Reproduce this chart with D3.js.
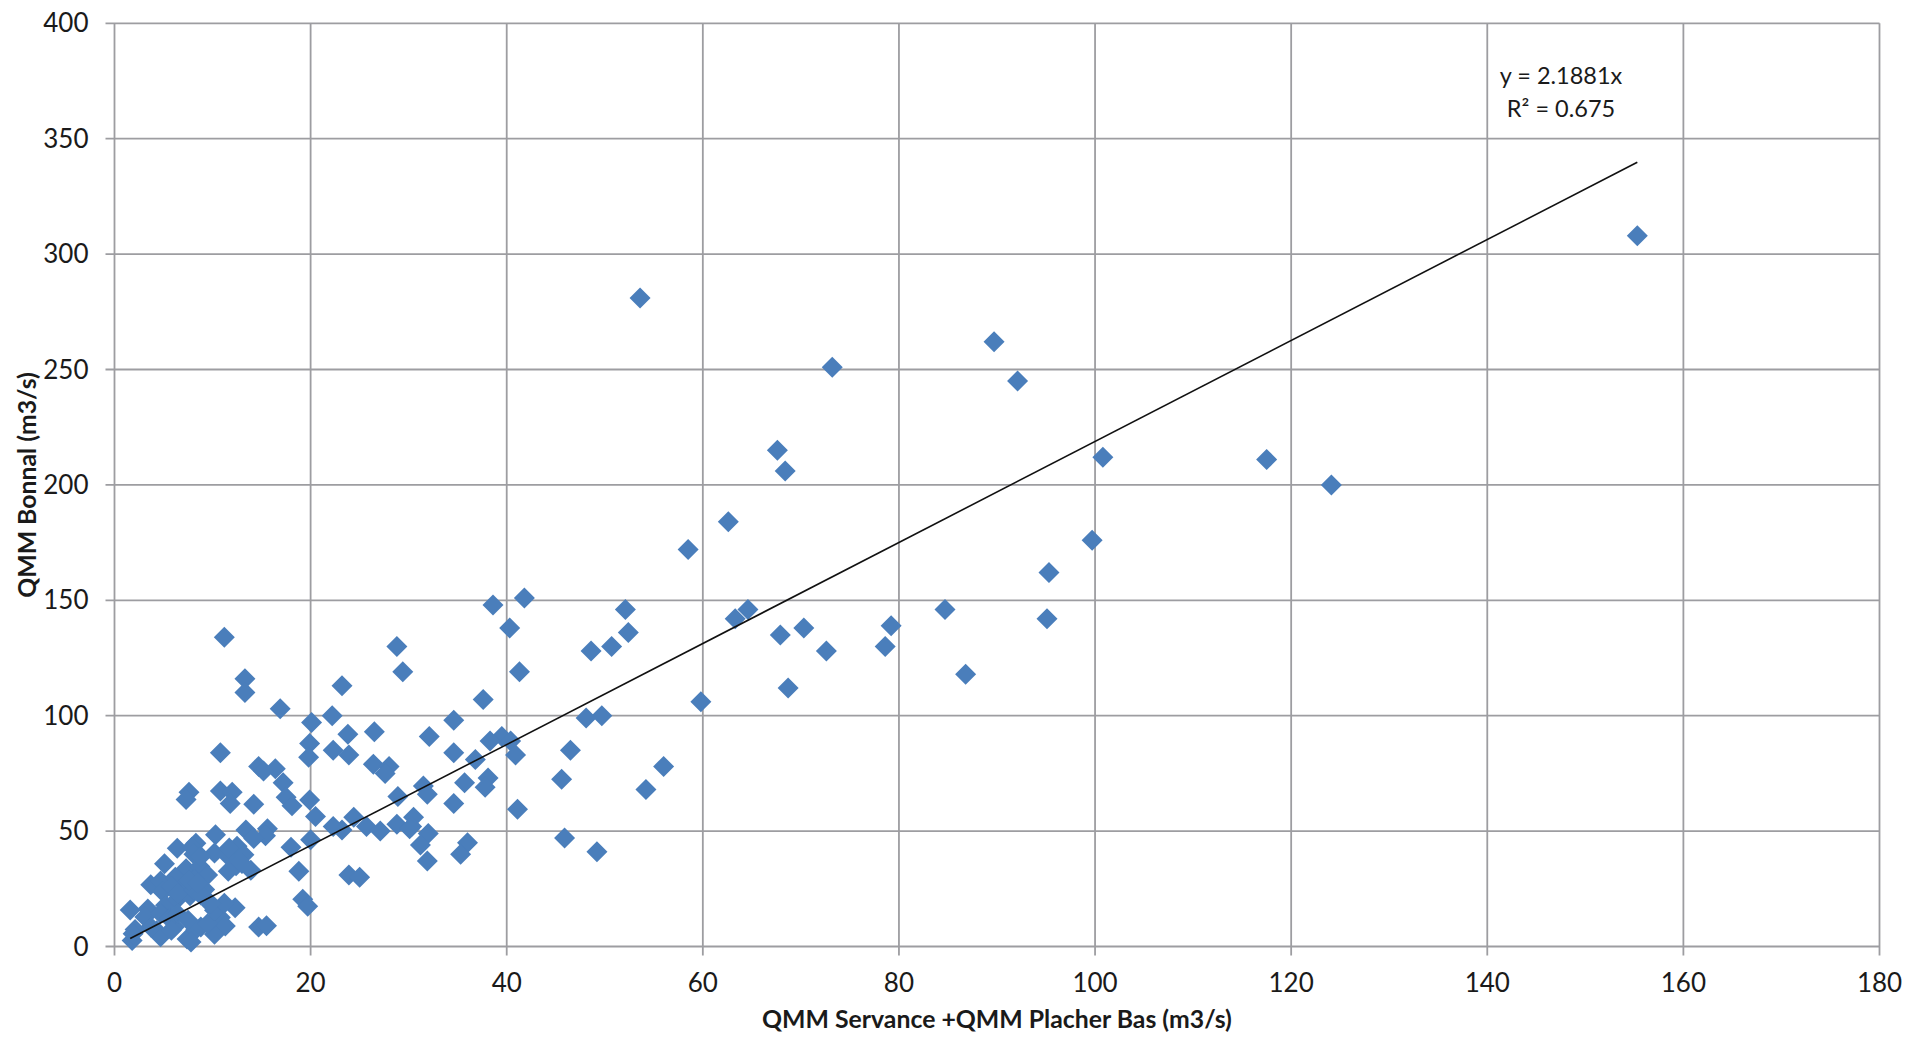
<!DOCTYPE html>
<html>
<head>
<meta charset="utf-8">
<script src="https://cdn.jsdelivr.net/npm/d3@7"></script>
<style>
  html, body { margin: 0; padding: 0; background: #ffffff; }
  svg { display: block; }
</style>
</head>
<body>
<svg id="chart" width="1907" height="1039"></svg>
<script>
// ---- Data ----
const xValues = [
  155.3, 53.6, 89.7, 73.2, 92.1, 67.6, 68.4, 100.8, 117.5, 124.1,
  99.7, 62.6, 58.5, 95.3, 41.8, 38.6, 84.7, 52.1, 64.6, 63.3,
  95.1, 11.2, 79.2, 70.3, 40.3, 67.9, 52.4, 28.8, 50.7, 78.6,
  48.6, 72.6, 29.4, 41.3, 86.8, 13.3, 23.2, 13.3, 68.7, 37.6,
  59.8, 16.9, 22.2, 49.7, 48.1, 20.1, 34.6, 26.5, 23.8, 32.1,
  39.5, 38.3, 40.4, 19.9, 10.8, 22.3, 23.9, 19.8, 34.6, 40.9,
  46.5, 36.8, 26.4, 28.0, 14.7, 16.4, 56.0, 27.6, 38.1, 45.6,
  17.2, 35.7, 31.5, 37.8, 54.2, 28.9, 31.9, 34.6, 41.1, 30.5,
  24.4, 25.7, 28.8, 30.3, 23.2, 27.1, 32.0, 45.9, 36.0, 31.2,
  35.3, 49.2, 31.9, 23.9, 25.0, 22.3,
  7.6, 10.8, 12.0, 7.3, 17.5, 19.9, 11.8, 14.2, 18.1, 20.5,
  15.6, 15.4, 13.4, 10.3, 14.2, 8.3, 6.4, 7.9, 18.0, 20.0,
  11.5, 10.2, 5.1, 7.3, 8.7, 13.9, 18.8, 12.4, 11.6, 3.7,
  4.7, 6.2, 9.5, 4.9, 7.1, 8.2, 19.2, 19.7, 1.6, 3.4,
  5.2, 6.4, 7.7, 9.2, 9.9, 12.3, 10.0, 10.8, 11.3, 2.1,
  1.8, 4.3, 4.7, 6.1, 7.4, 8.3, 10.2, 14.7, 15.5,
  12.5, 13.2, 11.7, 13.0, 5.8, 6.4, 8.1, 8.8, 7.6, 8.5,
  3.1, 4.7, 5.6, 6.4, 7.5, 3.7, 5.8, 8.8, 9.5, 10.2,
  11.2, 9.8, 8.1, 8.8, 1.9, 7.8, 15.2, 30.1
];
const yValues = [
  308, 281, 262, 251, 245, 215, 206, 212, 211, 200,
  176, 184, 172, 162, 151, 148, 146, 146, 146, 142,
  142, 134, 139, 138, 138, 135, 136, 130, 130, 130,
  128, 128, 119, 119, 118, 116, 113, 110, 112, 107,
  106, 103, 100, 100, 99, 97, 98, 93, 92, 91,
  91, 89, 89, 88, 84, 85, 83, 82, 84, 83,
  85, 81, 79, 78, 78, 77, 78, 75, 73, 72.5,
  71, 71, 69.5, 69, 68, 65, 66, 62, 59.5, 56,
  56, 52, 53, 52, 50.5, 50, 49, 47, 45, 44,
  40, 41, 37, 31, 30, 52,
  66.8, 67.4, 66.8, 63.7, 64.7, 63.5, 62, 61.6, 61, 56.3,
  51, 48, 50.5, 48.4, 46.8, 44.7, 42.6, 43, 43, 46.3,
  39.5, 40.5, 35.8, 33.7, 34.7, 33, 32.6, 35, 32.6, 26.8,
  28.4, 30, 31, 23.7, 26.8, 29, 20.5, 17.4, 15.8, 16.3,
  17.9, 20.5, 22, 24.7, 17.9, 16.8, 10.5, 12.6, 8.9, 7.4,
  2.6, 6.8, 4.2, 8.4, 3.2, 7.4, 5.3, 8.4, 9,
  43.4, 39.8, 42.7, 36, 25.9, 23, 24.5, 22.3, 28.9, 27.4,
  12.8, 14.3, 12.1, 14.3, 11.4, 8.5, 7, 8.5, 9.9, 15.7,
  18.7, 18.7, 40, 39, 5.5, 1.9, 76, 51
];
const xTicks = [0, 20, 40, 60, 80, 100, 120, 140, 160, 180];
const yTicks = [0, 50, 100, 150, 200, 250, 300, 350, 400];
const trendSlope = 2.1881;
const trendLabel = "y = 2.1881x";
const r2Label = "R\u00B2 = 0.675";
const xTitle = "QMM Servance +QMM Placher Bas (m3/s)";
const yTitle = "QMM Bonnal (m3/s)";

// ---- Layout ----
const plotLeft = 114.5, plotRight = 1879.5, plotTop = 23.3, plotBottom = 946.5;
const font = "Lato, 'Open Sans', sans-serif";
const textColor = "#1a1a1a";
const gridColor = "#9d9da1";
const markerColor = "#4a7ebb";

const svg = d3.select("#chart");
const x = d3.scaleLinear().domain([0, 180]).range([plotLeft, plotRight]);
const y = d3.scaleLinear().domain([0, 400]).range([plotBottom, plotTop]);

// Gridlines
const grid = svg.append("g");
grid.selectAll("line.v").data(xTicks).join("line")
  .attr("x1", d => x(d)).attr("x2", d => x(d))
  .attr("y1", y(400)).attr("y2", y(0) + 9)
  .attr("stroke", gridColor).attr("stroke-width", 1.8);
grid.selectAll("line.h").data(yTicks).join("line")
  .attr("x1", x(0) - 9).attr("x2", x(180))
  .attr("y1", d => y(d)).attr("y2", d => y(d))
  .attr("stroke", gridColor).attr("stroke-width", 1.8);

// Tick labels
svg.append("g").selectAll("text").data(yTicks).join("text")
  .attr("x", x(0) - 26).attr("y", d => y(d) + 9)
  .attr("text-anchor", "end")
  .attr("font-family", font).attr("font-size", 26)
  .attr("fill", textColor)
  .text(d => d);
svg.append("g").selectAll("text").data(xTicks).join("text")
  .attr("x", d => x(d)).attr("y", y(0) + 45)
  .attr("text-anchor", "middle")
  .attr("font-family", font).attr("font-size", 26)
  .attr("fill", textColor)
  .text(d => d);

// Axis titles
svg.append("text")
  .attr("x", 997).attr("y", 1028)
  .attr("text-anchor", "middle")
  .attr("font-family", font).attr("font-size", 24.8).attr("font-weight", "bold")
  .attr("fill", textColor)
  .text(xTitle);
svg.append("text")
  .attr("transform", "translate(36,485) rotate(-90)")
  .attr("text-anchor", "middle")
  .attr("font-family", font).attr("font-size", 24.8).attr("font-weight", "bold")
  .attr("fill", textColor)
  .text(yTitle);

// Points
const points = xValues.map((v, i) => ({ x: v, y: yValues[i] }));
const diamond = "M0,-10.5L10.5,0L0,10.5L-10.5,0Z";
svg.append("g").selectAll("path").data(points).join("path")
  .attr("d", diamond)
  .attr("transform", d => `translate(${x(d.x)},${y(d.y)})`)
  .attr("fill", markerColor);

// Trendline (through origin, spanning data range)
const xmin = d3.min(xValues), xmax = d3.max(xValues);
const line = d3.line().x(d => x(d)).y(d => y(trendSlope * d));
svg.append("path")
  .attr("d", line([xmin, xmax]))
  .attr("stroke", "#111").attr("stroke-width", 1.6).attr("fill", "none");

// Equation label
svg.append("text")
  .attr("x", 1561).attr("y", 84)
  .attr("text-anchor", "middle")
  .attr("font-family", font).attr("font-size", 23.5)
  .attr("fill", textColor)
  .text(trendLabel);
svg.append("text")
  .attr("x", 1561).attr("y", 117)
  .attr("text-anchor", "middle")
  .attr("font-family", font).attr("font-size", 23.5)
  .attr("fill", textColor)
  .text(r2Label);
</script>
</body>
</html>
